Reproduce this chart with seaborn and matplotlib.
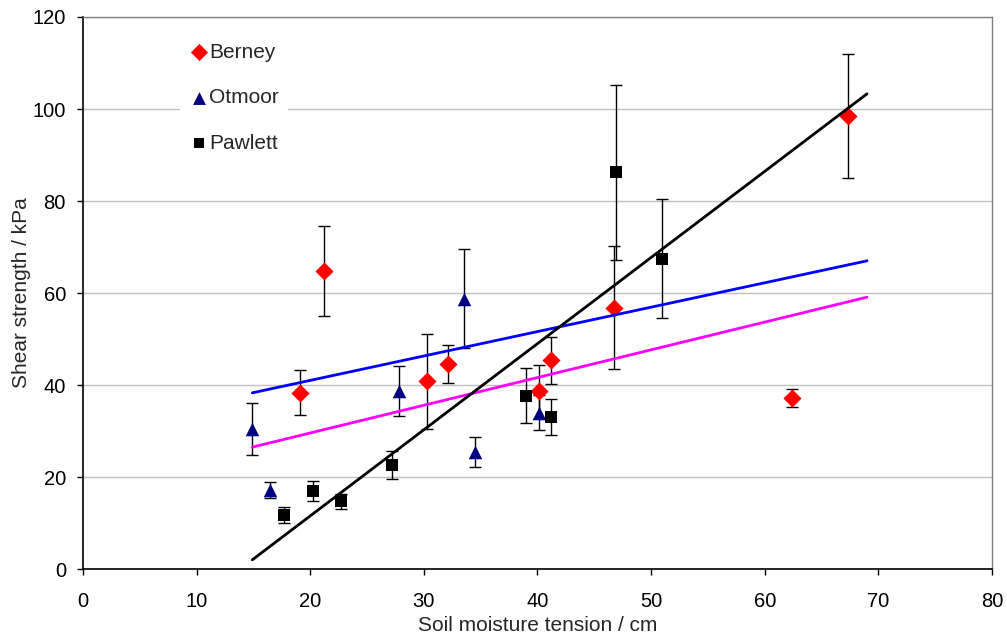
import numpy as np
import matplotlib
matplotlib.use("Agg")
import matplotlib.pyplot as plt
import seaborn as sns
import pandas as pd

# Berney
berney_x = [19.1, 21.2, 30.3, 32.1, 40.1, 41.2, 46.7, 62.4, 67.3]
berney_y = [38.3, 64.7, 40.8, 44.6, 38.6, 45.4, 56.8, 37.2, 98.5]
berney_err = [4.9, 9.8, 10.3, 4.2, 5.8, 5.1, 13.4, 2.0, 13.5]

# Otmoor
otmoor_x = [14.9, 16.5, 27.8, 33.5, 34.5, 40.1]
otmoor_y = [30.4, 17.2, 38.7, 58.8, 25.4, 34.0]
otmoor_err = [5.6, 1.7, 5.5, 10.7, 3.2, 3.8]

# Pawlett
pawlett_x = [17.7, 20.2, 22.7, 27.2, 39.0, 41.2, 46.9, 51.0]
pawlett_y = [11.7, 17.0, 14.7, 22.6, 37.7, 33.0, 86.2, 67.5]
pawlett_err = [1.7, 2.2, 1.7, 3.1, 5.9, 3.9, 19.1, 12.9]

# trend lines (end points)
fit_x = [14.9, 69.0]
berney_fit = [26.5, 59.1]
otmoor_fit = [38.3, 67.0]
pawlett_fit = [2.0, 103.3]

sns.set_style("white")
plt.rcParams["font.family"] = ["Liberation Sans", "DejaVu Sans"]

fig = plt.figure(figsize=(10.07, 6.39), dpi=100)
ax = fig.add_axes([0.0824, 0.1095, 0.9027, 0.8639])

series = [
    ("Berney", berney_x, berney_y, berney_err, "D", "#ff0000", 85),
    ("Otmoor", otmoor_x, otmoor_y, otmoor_err, "^", "#000080", 95),
    ("Pawlett", pawlett_x, pawlett_y, pawlett_err, "s", "#000000", 65),
]

for name, xs, ys, errs, mk, col, sz in series:
    ax.errorbar(xs, ys, yerr=errs, fmt="none", ecolor="black",
                elinewidth=1.0, capsize=4, capthick=1.0, zorder=2)
    df = pd.DataFrame({"x": xs, "y": ys})
    sns.scatterplot(data=df, x="x", y="y", marker=mk, color=col, s=sz,
                    edgecolor=col, linewidth=0, label=name, ax=ax, zorder=3)

fits = [(berney_fit, "#ff00ff"), (otmoor_fit, "#0000ff"), (pawlett_fit, "#000000")]
for fy, col in fits:
    sns.lineplot(x=fit_x, y=fy, color=col, linewidth=2.0, ax=ax, zorder=4)

ax.set_xlim(0, 80)
ax.set_ylim(0, 120)
ax.set_xticks(range(0, 81, 10))
ax.set_yticks(range(0, 121, 20))
ax.yaxis.grid(True, color="#c0c0c0", linewidth=1.0)
ax.set_axisbelow(True)

for s in ["top", "right"]:
    ax.spines[s].set_color("#808080")
    ax.spines[s].set_linewidth(1.0)
for s in ["left", "bottom"]:
    ax.spines[s].set_color("black")
    ax.spines[s].set_linewidth(1.2)

ax.tick_params(axis="both", direction="out", length=4.3, width=1.0,
               labelsize=14.5, colors="black", bottom=True, left=True)
ax.tick_params(axis="x", pad=12)
ax.tick_params(axis="y", pad=8)

ax.set_xlabel("Soil moisture tension / cm", fontsize=15, labelpad=4)
ax.set_ylabel("Shear strength / kPa", fontsize=15, labelpad=1)

leg = ax.legend(loc="upper left", bbox_to_anchor=(0.095, 0.987), frameon=True,
                fontsize=15, handletextpad=0.0, labelspacing=1.27,
                borderpad=0.4, markerscale=0.95, handlelength=1.0)
leg.get_frame().set_facecolor("white")
leg.get_frame().set_edgecolor("white")
leg.get_frame().set_alpha(1.0)

fig.savefig("out.png", dpi=100)
